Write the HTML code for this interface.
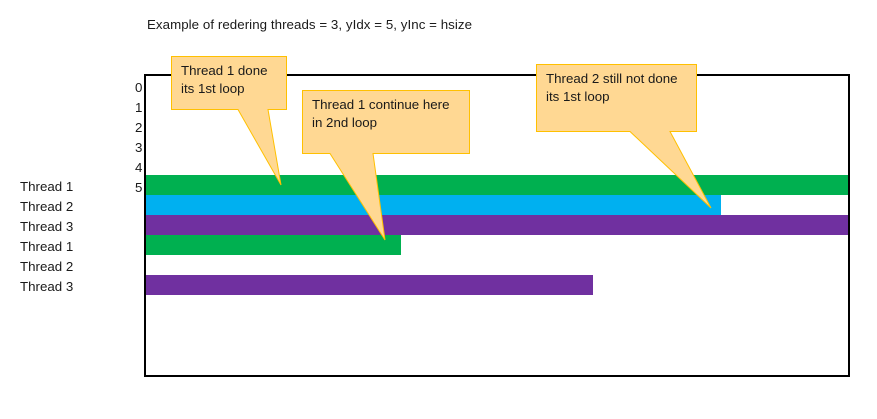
<!DOCTYPE html>
<html><head><meta charset="utf-8"><style>
html,body{margin:0;padding:0;background:#fff;}
svg{display:block;}
text{font-family:"Liberation Sans",sans-serif;font-size:13.3px;fill:#1a1a1a;}
</style></head><body>
<svg width="877" height="419" viewBox="0 0 877 419" xmlns="http://www.w3.org/2000/svg">
<rect x="0" y="0" width="877" height="419" fill="#fff"/>
<text x="147" y="29" textLength="325">Example of redering threads = 3, yIdx = 5, yInc = hsize</text>
<rect x="145" y="75" width="704" height="301" fill="#fff" stroke="#000" stroke-width="2"/>
<rect x="146" y="175" width="702" height="20" fill="#00B050"/>
<rect x="146" y="195" width="575" height="20" fill="#00B0F0"/>
<rect x="146" y="215" width="702" height="20" fill="#7030A0"/>
<rect x="146" y="235" width="255" height="20" fill="#00B050"/>
<rect x="146" y="275" width="447" height="20" fill="#7030A0"/>
<g>
<text x="135" y="92">0</text><text x="135" y="112">1</text><text x="135" y="132">2</text>
<text x="135" y="152">3</text><text x="135" y="172">4</text><text x="135" y="192">5</text>
</g>
<g>
<text x="20" y="191">Thread 1</text><text x="20" y="211">Thread 2</text><text x="20" y="231">Thread 3</text>
<text x="20" y="251">Thread 1</text><text x="20" y="271">Thread 2</text><text x="20" y="291">Thread 3</text>
</g>
<g fill="#FFD893" stroke="#FFC000" stroke-width="1">
<path d="M171.5 56.5 H286.5 V109.5 H268 L281 185 L238 109.5 H171.5 Z"/>
<path d="M302.5 90.5 H469.5 V153.5 H373 L385 240 L330 153.5 H302.5 Z"/>
<path d="M536.5 64.5 H696.5 V131.5 H670 L711 208 L630 131.5 H536.5 Z"/>
</g>
<text x="181" y="75">Thread 1 done</text><text x="181" y="93">its 1st loop</text>
<text x="312" y="109">Thread 1 continue here</text><text x="312" y="127">in 2nd loop</text>
<text x="546" y="83">Thread 2 still not done</text><text x="546" y="101">its 1st loop</text>
</svg>
</body></html>
